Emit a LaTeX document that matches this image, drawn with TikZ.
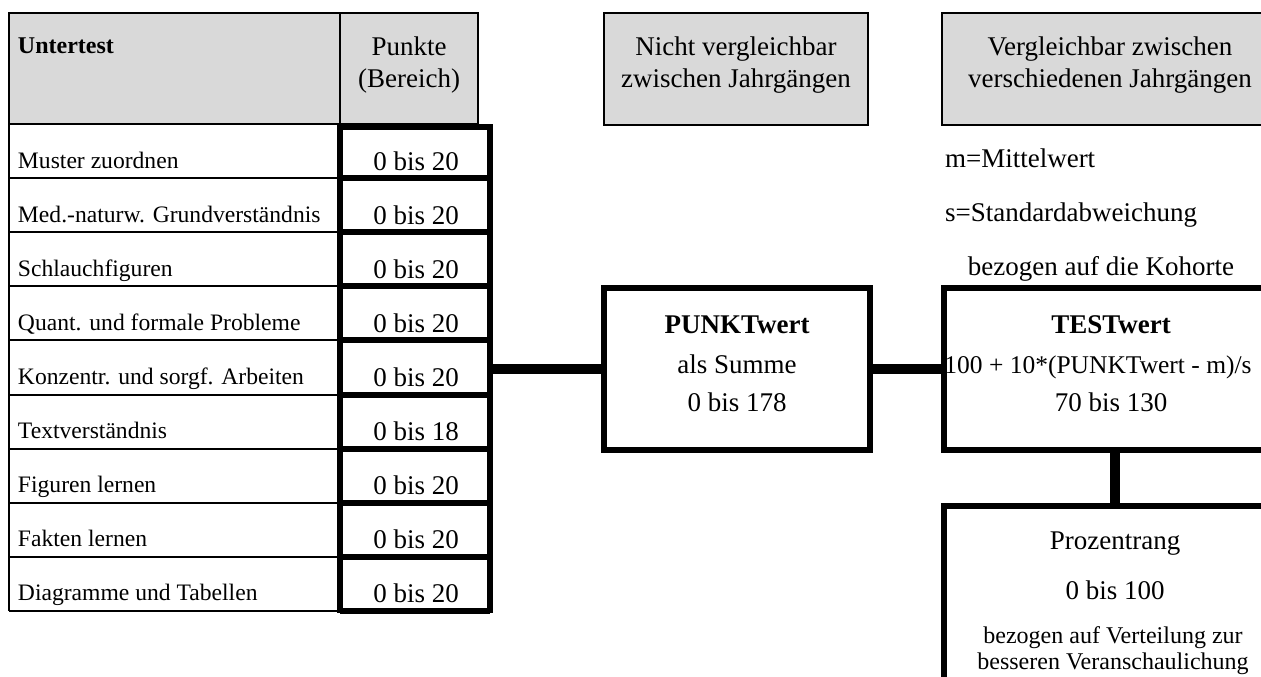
\documentclass[tikz,border=0pt]{standalone}
\usepackage{fontspec}
\setmainfont{Liberation Serif}
\usetikzlibrary{positioning}

\newcommand{\grossschrift}{\fontsize{13.5}{16}\selectfont}
\newcommand{\kleinschrift}{\fontsize{11.8}{13}\selectfont}

\begin{document}
\begin{tikzpicture}[
		x=0.5pt, y=-0.5pt, % Pixelraster, y zeigt nach unten
		font=\kleinschrift,
		every node/.style={inner sep=0pt, outer sep=0pt},
		kopf/.style={draw, line width=1pt, fill=gray!30, anchor=north west},
		rahmen/.style={draw, line width=3pt, fill=white, anchor=north west},
		verbinder/.style={line width=5pt},
		duenn/.style={line width=1pt},
		dick/.style={line width=3pt},
		wert/.style={font=\grossschrift, anchor=base}
		]
		
		% --- 1. Bildausschnitt ---
		\useasboundingbox (0,0) rectangle (1261,676);
		\clip (0,0) rectangle (1261,676);
		
		% --- 2. Kopfzeilen (grau) ---
		\node[kopf, minimum width=165.5pt, minimum height=55.5pt] (untertest) at (9,13) {};
		\node[kopf, minimum width=69pt, minimum height=55.5pt] (punkte) at (340,13) {};
		\node[kopf, minimum width=132pt, minimum height=56pt] (nicht) at (604,13) {};
		\node[kopf, minimum width=168pt, minimum height=56pt] (vergl) at (942,13) {};
		
		\node[anchor=base west, font=\fontsize{12}{14}\selectfont\bfseries] (untertestText) at (18,53) {Untertest};
		\node[font=\grossschrift, align=center] (punkteText) at (409,65) {Punkte\\(Bereich)};
		\node[font=\grossschrift, align=center] (nichtText) at (736,65) {Nicht vergleichbar\\zwischen Jahrgängen};
		\node[font=\grossschrift, align=center] (verglText) at (1110,65) {Vergleichbar zwischen\\verschiedenen Jahrgängen};
		
		% --- 3. Tabelle der Untertests ---
		\draw[duenn] (9,124) -- (9,611);
		\draw[dick] (340,124) -- (340,613);
		\draw[dick] (490,124) -- (490,613);
		\draw[dick] (340,127) -- (490,127);
		
		\foreach \name/\pkt [count=\i from 0] in {Muster zuordnen/20, Med.-naturw. Grundverständnis/20,
			Schlauchfiguren/20, Quant. und formale Probleme/20, Konzentr. und sorgf. Arbeiten/20,
			Textverständnis/18, Figuren lernen/20, Fakten lernen/20, Diagramme und Tabellen/20} {
			\pgfmathsetmacro{\unten}{124+54.1*(\i+1)}
			\draw[duenn] (9,\unten) -- (340,\unten);
			\draw[dick] (340,\unten) -- (490,\unten);
			\node[anchor=base west] (u\i) at (18,\unten-10) {\name};
			\node[wert] (p\i) at (416,\unten-8) {0 bis \pkt};
		}
		
		% --- 4. Ergebniskaesten ---
		\node[rahmen, minimum width=133pt, minimum height=81pt] (punktwert) at (604,288) {};
		\node[rahmen, minimum width=167pt, minimum height=81pt] (testwert) at (944,288) {};
		\node[rahmen, minimum width=167pt, minimum height=110pt] (prozent) at (944,506) {};
		
		% --- 5. Verbindungen ---
		\coordinate (spalte) at (490,369); % rechte Kante der Punktespalte
		\draw[verbinder] (spalte) -- (punktwert.west);
		\draw[verbinder] (punktwert.east) -- (testwert.west);
		\draw[verbinder] ([xshift=2pt]testwert.south) -- ([xshift=2pt]prozent.north);
		
		% --- 6. Beschriftungen ---
		\node[wert, font=\grossschrift\bfseries] (pwTitel) at (737,333) {PUNKTwert};
		\node[wert] (pwSumme) at (737,373) {als Summe};
		\node[wert] (pwBereich) at (737,411) {0 bis 178};
		
		\node[wert, font=\fontsize{12.75}{15}\selectfont] (twFormel) at (1098,373) {100 + 10*(PUNKTwert - m)/s};
		\node[wert, font=\grossschrift\bfseries] (twTitel) at (1111,333) {TESTwert};
		\node[wert] (twBereich) at (1111,411) {70 bis 130};
		
		\node[wert, anchor=base west] (mittel) at (945,167) {m=Mittelwert};
		\node[wert, anchor=base west] (stabw) at (945,221) {s=Standardabweichung};
		\node[wert] (kohorte) at (1101,275) {bezogen auf die Kohorte};
		
		\node[wert] (prTitel) at (1115,549) {Prozentrang};
		\node[wert] (prBereich) at (1115,599) {0 bis 100};
		\node[font=\fontsize{12}{13}\selectfont, align=center] (prText) at (1113,651) {bezogen auf Verteilung zur\\besseren Veranschaulichung};
		
	\end{tikzpicture}
\end{document}
